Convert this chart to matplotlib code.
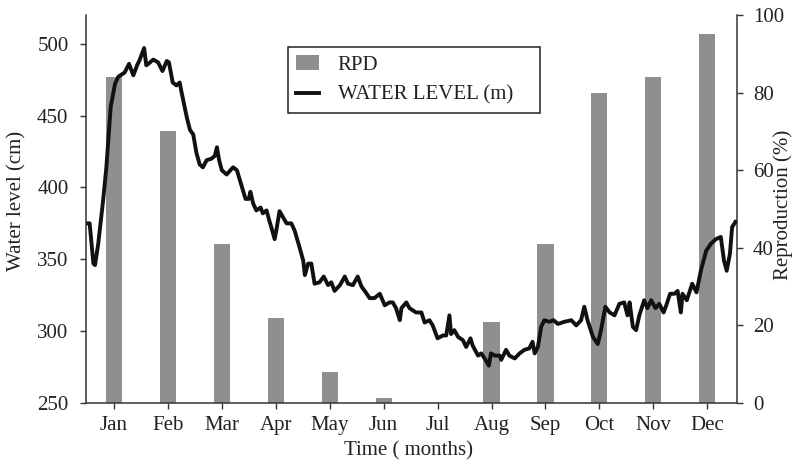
import numpy as np
import matplotlib
matplotlib.use("Agg")
import matplotlib.pyplot as plt
from matplotlib.patches import Rectangle
from matplotlib.legend_handler import HandlerPatch

plt.rcParams['font.family'] = ['Liberation Serif', 'DejaVu Serif']

months = ["Jan", "Feb", "Mar", "Apr", "May", "Jun",
          "Jul", "Aug", "Sep", "Oct", "Nov", "Dec"]
rpd = [84, 70, 41, 22, 8, 1.3, 0, 21, 41, 80, 84, 95]

# water level trace, x in months after mid-Jan (0 = Jan tick)
wl_t = [-0.49, -0.45, -0.38, -0.35, -0.29, -0.2, -0.14, -0.06, 0.02, 0.08, 0.2, 0.28,
        0.36, 0.43, 0.48, 0.56, 0.6, 0.67, 0.73, 0.82, 0.9, 0.98, 1.02, 1.09,
        1.16, 1.22, 1.25, 1.35, 1.41, 1.47, 1.53, 1.59, 1.65, 1.72, 1.81, 1.87,
        1.91, 1.95, 2.0, 2.09, 2.16, 2.21, 2.28, 2.36, 2.44, 2.5, 2.53, 2.58,
        2.64, 2.72, 2.76, 2.83, 2.88, 2.92, 2.98, 3.01, 3.07, 3.14, 3.2, 3.29,
        3.35, 3.44, 3.51, 3.54, 3.6, 3.66, 3.72, 3.81, 3.89, 3.97, 4.03, 4.09,
        4.19, 4.28, 4.34, 4.43, 4.52, 4.59, 4.65, 4.74, 4.83, 4.93, 5.02, 5.11,
        5.17, 5.23, 5.3, 5.33, 5.42, 5.48, 5.6, 5.7, 5.76, 5.85, 5.91, 6.0,
        6.1, 6.16, 6.22, 6.25, 6.31, 6.38, 6.47, 6.53, 6.61, 6.65, 6.75, 6.81,
        6.89, 6.95, 6.99, 7.06, 7.15, 7.18, 7.27, 7.33, 7.43, 7.52, 7.61, 7.7,
        7.76, 7.8, 7.86, 7.92, 7.98, 8.07, 8.15, 8.23, 8.35, 8.48, 8.57, 8.66,
        8.72, 8.78, 8.88, 8.97, 9.03, 9.11, 9.19, 9.28, 9.37, 9.46, 9.52, 9.56,
        9.62, 9.68, 9.74, 9.83, 9.89, 9.96, 10.04, 10.11, 10.19, 10.24, 10.31, 10.39,
        10.45, 10.51, 10.54, 10.62, 10.72, 10.8, 10.88, 10.98, 11.07, 11.16, 11.25, 11.31,
        11.36, 11.42, 11.46, 11.52]
wl_cm = [375, 375, 347, 346, 361, 391, 414, 456, 472, 477, 480, 486,
         478, 485, 489, 497, 485, 487, 489, 487, 481, 488, 487, 473,
         471, 473, 467, 449, 440, 437, 424, 416, 414, 419, 420, 422,
         428, 419, 412, 409, 412, 414, 412, 402, 392, 392, 397, 389,
         384, 386, 382, 384, 377, 372, 364, 370, 383.5, 379, 375, 375,
         370, 358.5, 349, 339, 347, 347, 333, 334, 338, 332, 334, 328,
         332, 338, 333, 332, 338, 331, 328, 323, 323, 326, 318, 320,
         320, 316, 307.6, 316, 320, 316, 313, 313, 306, 307.6, 304, 295,
         297, 297, 311, 298, 300.7, 296, 293.7, 289, 295, 290, 283, 284.5,
         280, 276, 284.5, 283, 283, 280, 287, 283, 281, 284.5, 287, 288,
         292.6, 284.5, 289, 303, 307.6, 306.5, 307.6, 305, 306.5, 307.6, 304, 307.6,
         317, 307.6, 296, 291, 300.7, 317, 313, 311, 319, 320, 311, 320,
         303, 300.7, 311, 321.5, 316, 321.5, 316, 319, 313, 318, 326, 326,
         328, 313, 326, 321.5, 333, 327, 342, 356, 361, 364, 365.6, 349,
         342, 354, 372.4, 376]

fig = plt.figure(figsize=(7.95, 4.63), dpi=100)
ax = fig.add_axes([0.108, 0.1296, 0.819, 0.838])
ax2 = ax.twinx()

x = np.arange(len(months))
bars = ax2.bar(x, rpd, width=0.3, color="#8f8f8f", label="RPD")
line, = ax.plot(wl_t, wl_cm, color="#111111", lw=2.8, label="WATER LEVEL (m)")

ax.set_zorder(ax2.get_zorder() + 1)
ax.patch.set_visible(False)

ax.set_xlim(-0.52, 11.55)
ax.set_ylim(250, 520)
ax2.set_ylim(0, 100)
ax.set_xticks(x)
ax.set_xticklabels(months)
ax.set_yticks([250, 300, 350, 400, 450, 500])
ax2.set_yticks([0, 20, 40, 60, 80, 100])

tc = "#222222"
for a in (ax, ax2):
    a.spines['top'].set_visible(False)
    for s in a.spines.values():
        s.set_color("#333333")
        s.set_linewidth(1.1)
    a.tick_params(direction='out', length=4.5, width=1, colors="#333333",
                  labelcolor=tc, labelsize=15)
ax.spines['right'].set_visible(False)
ax2.spines['left'].set_visible(False)
ax2.spines['bottom'].set_visible(False)
ax.tick_params(axis='y', pad=8)
ax.tick_params(axis='x', pad=5)
ax2.tick_params(axis='y', pad=7)

fig.text(17 / 795, 1 - 201 / 463, "Water level (cm)", rotation=90,
         ha="center", va="center", fontsize=15, color=tc)
fig.text(783 / 795, 1 - 205 / 463, "Reproduction (%)", rotation=90,
         ha="center", va="center", fontsize=15, color=tc)
fig.text(409 / 795, 1 - 451 / 463, "Time ( months)",
         ha="center", va="center", fontsize=15, color=tc)


def small_patch(legend, orig_handle, xdescent, ydescent, width, height, fontsize):
    return Rectangle((-xdescent + 0.7 * width, -ydescent), 0.65 * width, height)


leg = ax.legend([bars, line], ["RPD", "WATER LEVEL (m)"],
                loc="upper left", bbox_to_anchor=(0.310, 0.9175, 0.387, 0.0),
                mode="expand",
                borderaxespad=0, fancybox=False, framealpha=1,
                edgecolor="#222222", fontsize=15, handlelength=1.1,
                handletextpad=0.9, borderpad=0.4, labelspacing=0.5,
                handler_map={type(bars[0]): HandlerPatch(patch_func=small_patch)})
leg.get_frame().set_linewidth(1.1)
for t in leg.get_texts():
    t.set_color(tc)

fig.savefig("out.png", dpi=100)
